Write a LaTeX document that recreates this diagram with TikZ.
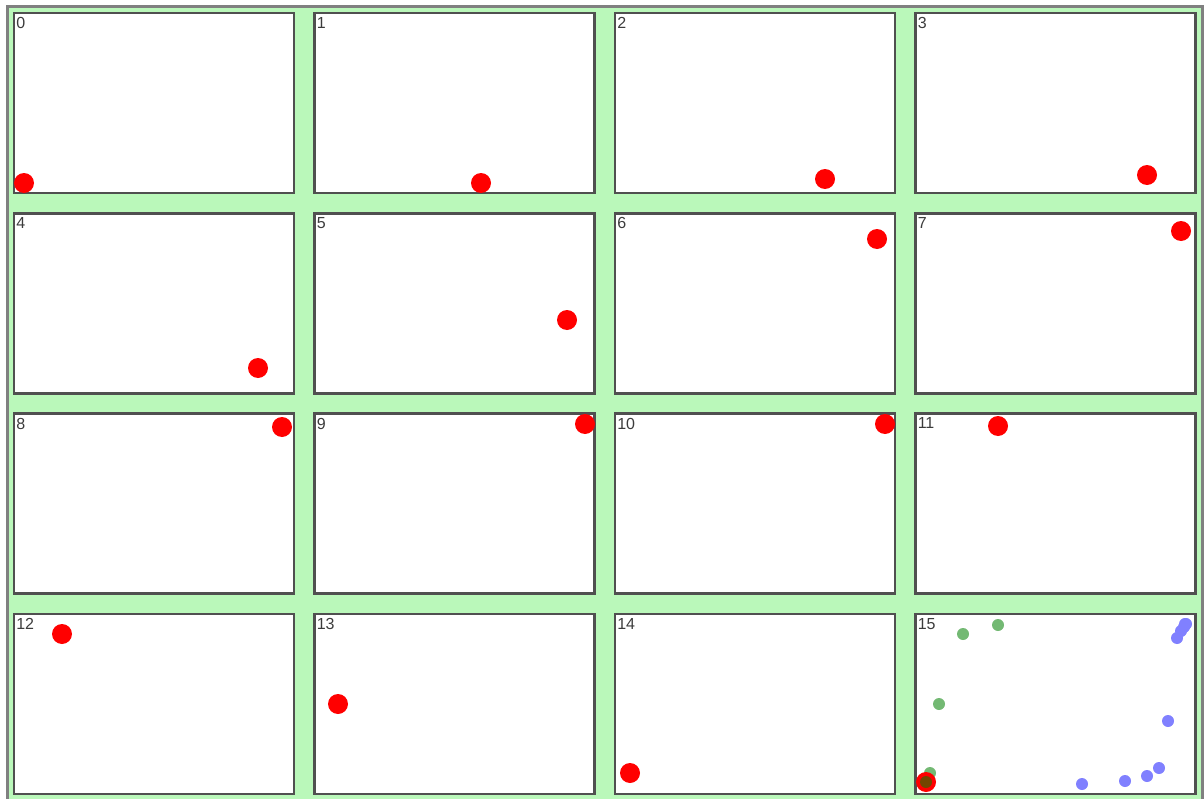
\documentclass[tikz,border=0pt]{standalone}
\usepackage{xcolor}
\usepackage{fontspec}
\setmainfont{Liberation Sans}
\usepackage{tikz}

\definecolor{boardgreen}{RGB}{186,248,186}
\definecolor{framegray}{RGB}{128,128,128}
\definecolor{panelgray}{RGB}{80,80,80}
\definecolor{taggray}{RGB}{60,60,60}
\definecolor{trailblue}{RGB}{128,128,255}
\definecolor{trailgreen}{RGB}{0,128,0}

\begin{document}
\begin{tikzpicture}[
  x=0.75pt, y=-0.75pt,
  panel/.style={rectangle, draw=panelgray, line width=1.9pt, fill=white,
               minimum width=210pt, minimum height=135pt,
               inner sep=0pt, outer sep=0pt, anchor=north west},
  tag/.style={anchor=north west, inner sep=0pt, text=taggray,
             font=\fontsize{12}{12}\selectfont},
  reddot/.style={fill=red},
  trailnew/.style={fill=trailgreen, opacity=0.55},
  trailold/.style={fill=trailblue}
]
\useasboundingbox (0,0) rectangle (1204,799);

% board
\draw[framegray, line width=2.25pt, fill=boardgreen] (7.5,6.5) rectangle (1202.5,808);

% panels 0..15
\foreach \i in {0,...,15}{
  \pgfmathtruncatemacro\col{mod(\i,4)}
  \pgfmathtruncatemacro\row{div(\i,4)}
  \node[panel] (p\i) at ({14+300.5*\col},{13+200.33*\row}) {};
  \node[tag] (t\i) at ([shift={(2,4)}]p\i.north west) {\i};
}

% ball in each frame
\foreach \x/\y in {24/183, 481/183, 825/179, 1147/175,
                   258/368, 567/320, 877/239, 1181/231,
                   282/427, 585/424, 885/424, 998/426,
                   62/634, 338/704, 630/773}
  \fill[reddot] (\x,\y) circle[radius=7.5pt];

% last frame: old trail
\foreach \x/\y in {1082/784, 1125/781, 1147/776, 1159/768, 1168/721,
                   1177/638, 1181/631, 1184/627, 1186/624, 1185/624}
  \fill[trailold] (\x,\y) circle[radius=4.5pt];
% last frame: recent trail
\foreach \x/\y in {998/625, 963/634, 939/704, 930/773}
  \fill[trailnew] (\x,\y) circle[radius=4.5pt];
\fill[reddot] (926,782) circle[radius=7.5pt];
\fill[trailnew] (926,782) circle[radius=4.5pt];

\end{tikzpicture}
\end{document}
